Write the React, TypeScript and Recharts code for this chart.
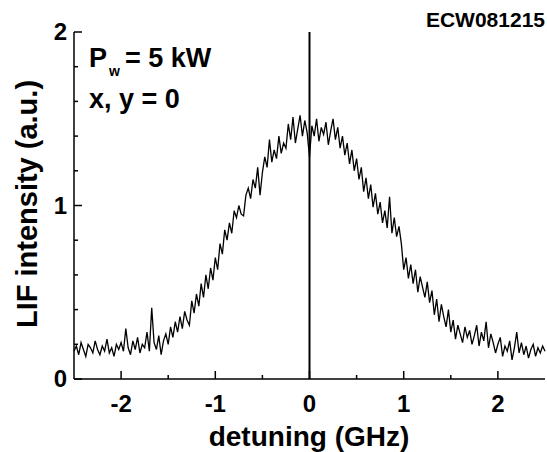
import { LineChart, Line, XAxis, YAxis, ReferenceLine } from 'recharts';

// detuning (GHz)
const detuning = [
  -2.5, -2.475, -2.45, -2.425, -2.4, -2.375, -2.35, -2.325, -2.3, -2.275,
  -2.25, -2.225, -2.2, -2.175, -2.15, -2.125, -2.1, -2.075, -2.05, -2.025,
  -2.0, -1.975, -1.95, -1.925, -1.9, -1.875, -1.85, -1.825, -1.8, -1.775,
  -1.75, -1.725, -1.7, -1.675, -1.65, -1.625, -1.6, -1.575, -1.55, -1.525,
  -1.5, -1.475, -1.45, -1.425, -1.4, -1.375, -1.35, -1.325, -1.3, -1.275,
  -1.25, -1.225, -1.2, -1.175, -1.15, -1.125, -1.1, -1.075, -1.05, -1.025,
  -1.0, -0.975, -0.95, -0.925, -0.9, -0.875, -0.85, -0.825, -0.8, -0.775,
  -0.75, -0.725, -0.7, -0.675, -0.65, -0.625, -0.6, -0.575, -0.55, -0.525,
  -0.5, -0.475, -0.45, -0.425, -0.4, -0.375, -0.35, -0.325, -0.3, -0.275,
  -0.25, -0.225, -0.2, -0.175, -0.15, -0.125, -0.1, -0.075, -0.05, -0.025,
  0.0, 0.025, 0.05, 0.075, 0.1, 0.125, 0.15, 0.175, 0.2, 0.225,
  0.25, 0.275, 0.3, 0.325, 0.35, 0.375, 0.4, 0.425, 0.45, 0.475,
  0.5, 0.525, 0.55, 0.575, 0.6, 0.625, 0.65, 0.675, 0.7, 0.725,
  0.75, 0.775, 0.8, 0.825, 0.85, 0.875, 0.9, 0.925, 0.95, 0.975,
  1.0, 1.025, 1.05, 1.075, 1.1, 1.125, 1.15, 1.175, 1.2, 1.225,
  1.25, 1.275, 1.3, 1.325, 1.35, 1.375, 1.4, 1.425, 1.45, 1.475,
  1.5, 1.525, 1.55, 1.575, 1.6, 1.625, 1.65, 1.675, 1.7, 1.725,
  1.75, 1.775, 1.8, 1.825, 1.85, 1.875, 1.9, 1.925, 1.95, 1.975,
  2.0, 2.025, 2.05, 2.075, 2.1, 2.125, 2.15, 2.175, 2.2, 2.225,
  2.25, 2.275, 2.3, 2.325, 2.35, 2.375, 2.4, 2.425, 2.45, 2.475,
  2.5,
];

// LIF intensity (a.u.)
const lif = [
  0.16, 0.19, 0.14, 0.21, 0.17, 0.13, 0.2, 0.18, 0.15, 0.22,
  0.17, 0.14, 0.19, 0.16, 0.23, 0.15, 0.18, 0.13, 0.2, 0.17,
  0.21, 0.16, 0.29, 0.18, 0.14, 0.22, 0.17, 0.24, 0.15, 0.2,
  0.18, 0.27, 0.16, 0.41, 0.21, 0.17, 0.25, 0.14, 0.22, 0.26,
  0.2, 0.3, 0.24, 0.33, 0.27, 0.36, 0.29, 0.39, 0.34, 0.31,
  0.45, 0.38, 0.49, 0.42, 0.55, 0.47, 0.6, 0.52, 0.64, 0.57,
  0.7, 0.63, 0.78, 0.72, 0.86, 0.8, 0.9, 0.84, 0.97, 0.93,
  1.0, 0.95, 0.94, 1.06, 1.1, 1.04, 1.15, 1.1, 1.22, 1.06,
  1.19, 1.28, 1.22, 1.38, 1.25, 1.32, 1.27, 1.4, 1.3, 1.36,
  1.33, 1.47, 1.38, 1.51, 1.36, 1.44, 1.52, 1.4, 1.49, 1.42,
  1.28, 1.46, 1.4, 1.5, 1.37, 1.45, 1.41, 1.48, 1.35, 1.43,
  1.5, 1.38, 1.45, 1.33, 1.4, 1.29, 1.36, 1.24, 1.32, 1.2,
  1.27, 1.15, 1.22, 1.08, 1.16, 1.04, 1.12, 0.99, 1.07, 0.95,
  1.02, 0.9, 0.97, 0.87, 1.05, 0.84, 0.93, 0.82, 0.88, 0.78,
  0.63, 0.7, 0.58, 0.66, 0.55, 0.63, 0.5, 0.59, 0.53, 0.47,
  0.56, 0.44, 0.51, 0.37, 0.46, 0.33, 0.43, 0.36, 0.3, 0.4,
  0.27, 0.34, 0.23, 0.31, 0.26, 0.21, 0.3, 0.24, 0.28, 0.2,
  0.25, 0.31, 0.19, 0.27, 0.22, 0.33, 0.18, 0.26, 0.21, 0.15,
  0.2, 0.24, 0.13, 0.19, 0.16, 0.22, 0.11, 0.18, 0.27, 0.15,
  0.21, 0.14, 0.19, 0.12, 0.17, 0.2, 0.13, 0.18, 0.15, 0.19,
  0.16,
];

const xTicks = [-2, -1.5, -1, -0.5, 0, 0.5, 1, 1.5, 2];
const yTicks = [0.2, 0.4, 0.6, 0.8, 1, 1.2, 1.4, 1.6, 1.8];
const xLabels = [-2, -1, 0, 1, 2];
const yLabels = [0, 1, 2];

const data = detuning.map((d, i) => ({ d, v: lif[i] }));

const FONT = '"Liberation Sans", Arial, sans-serif';

const isMajor = (v: number) => Math.abs(v - Math.round(v)) < 1e-6;

function BottomTick({ x, y, payload }: any) {
  const len = isMajor(payload.value) ? 8 : 4;
  return (
    <g>
      <line x1={x} y1={y} x2={x} y2={y - len} stroke="#000" strokeWidth={1.5} />
      {xLabels.includes(payload.value) && (
        <text x={x} y={y + 33} textAnchor="middle" fontFamily={FONT} fontWeight="bold" fontSize={24} fill="#000">
          {payload.value}
        </text>
      )}
    </g>
  );
}

function TopTick({ x, y, payload }: any) {
  const len = isMajor(payload.value) ? 8 : 4;
  return <line x1={x} y1={y} x2={x} y2={y + len} stroke="#000" strokeWidth={1.5} />;
}

function LeftTick({ x, y, payload }: any) {
  const len = isMajor(payload.value) ? 8 : 4;
  return (
    <g>
      <line x1={x} y1={y} x2={x + len} y2={y} stroke="#000" strokeWidth={1.5} />
      {yLabels.includes(payload.value) && (
        <text x={x - 7} y={y + 8} textAnchor="end" fontFamily={FONT} fontWeight="bold" fontSize={24} fill="#000">
          {payload.value}
        </text>
      )}
    </g>
  );
}

function RightTick({ x, y, payload }: any) {
  const len = isMajor(payload.value) ? 8 : 4;
  return <line x1={x} y1={y} x2={x - len} y2={y} stroke="#000" strokeWidth={1.5} />;
}

export default function App() {
  return (
    <div style={{ position: 'absolute', left: 0, top: 0, width: 547, height: 452, background: '#fff' }}>
      <LineChart width={547} height={452} data={data} margin={{ top: 32, right: 2, left: 0, bottom: 0 }}>
        <XAxis
          xAxisId="b"
          dataKey="d"
          type="number"
          domain={[-2.5, 2.5]}
          ticks={[...xTicks]}
          height={73}
          tickSize={0}
          tickMargin={0}
          tickLine={false}
          axisLine={{ stroke: '#000', strokeWidth: 1.5 }}
          tick={<BottomTick />}
          interval={0}
        />
        <XAxis
          xAxisId="t"
          dataKey="d"
          type="number"
          orientation="top"
          domain={[-2.5, 2.5]}
          ticks={[...xTicks]}
          height={0}
          tickSize={0}
          tickMargin={0}
          tickLine={false}
          axisLine={{ stroke: '#000', strokeWidth: 1.5 }}
          tick={<TopTick />}
          interval={0}
        />
        <YAxis
          yAxisId="l"
          type="number"
          domain={[0, 2]}
          ticks={[0, ...yTicks, 2]}
          width={74}
          tickSize={0}
          tickMargin={0}
          tickLine={false}
          axisLine={{ stroke: '#000', strokeWidth: 1.5 }}
          tick={<LeftTick />}
          interval={0}
        />
        <YAxis
          yAxisId="r"
          orientation="right"
          type="number"
          domain={[0, 2]}
          ticks={[...yTicks]}
          width={0}
          tickSize={0}
          tickMargin={0}
          tickLine={false}
          axisLine={{ stroke: '#000', strokeWidth: 1.5 }}
          tick={<RightTick />}
          interval={0}
        />
        <ReferenceLine xAxisId="b" yAxisId="l" x={0} stroke="#000" strokeWidth={2} />
        <Line
          xAxisId="b"
          yAxisId="l"
          dataKey="v"
          type="linear"
          stroke="#000"
          strokeWidth={1.3}
          dot={false}
          isAnimationActive={false}
        />
        <text x={309} y={446} textAnchor="middle" fontFamily={FONT} fontWeight="bold" fontSize={28} fill="#000">
          detuning (GHz)
        </text>
        <text
          x={0}
          y={0}
          transform="translate(37, 204) rotate(-90)"
          textAnchor="middle"
          fontFamily={FONT}
          fontWeight="bold"
          fontSize={29}
          fill="#000"
        >
          LIF intensity (a.u.)
        </text>
        <text x={545} y={27} textAnchor="end" fontFamily={FONT} fontWeight="bold" fontSize={21} fill="#000">
          ECW081215
        </text>
        <text x={89} y={67} fontFamily={FONT} fontWeight="bold" fontSize={27} fill="#000">
          P
          <tspan dx={2} dy={9} fontSize={14}>w</tspan>
          <tspan dx={5} dy={-9}>= 5 kW</tspan>
        </text>
        <text x={89} y={108} fontFamily={FONT} fontWeight="bold" fontSize={27} fill="#000">
          x, y = 0
        </text>
      </LineChart>
    </div>
  );
}
